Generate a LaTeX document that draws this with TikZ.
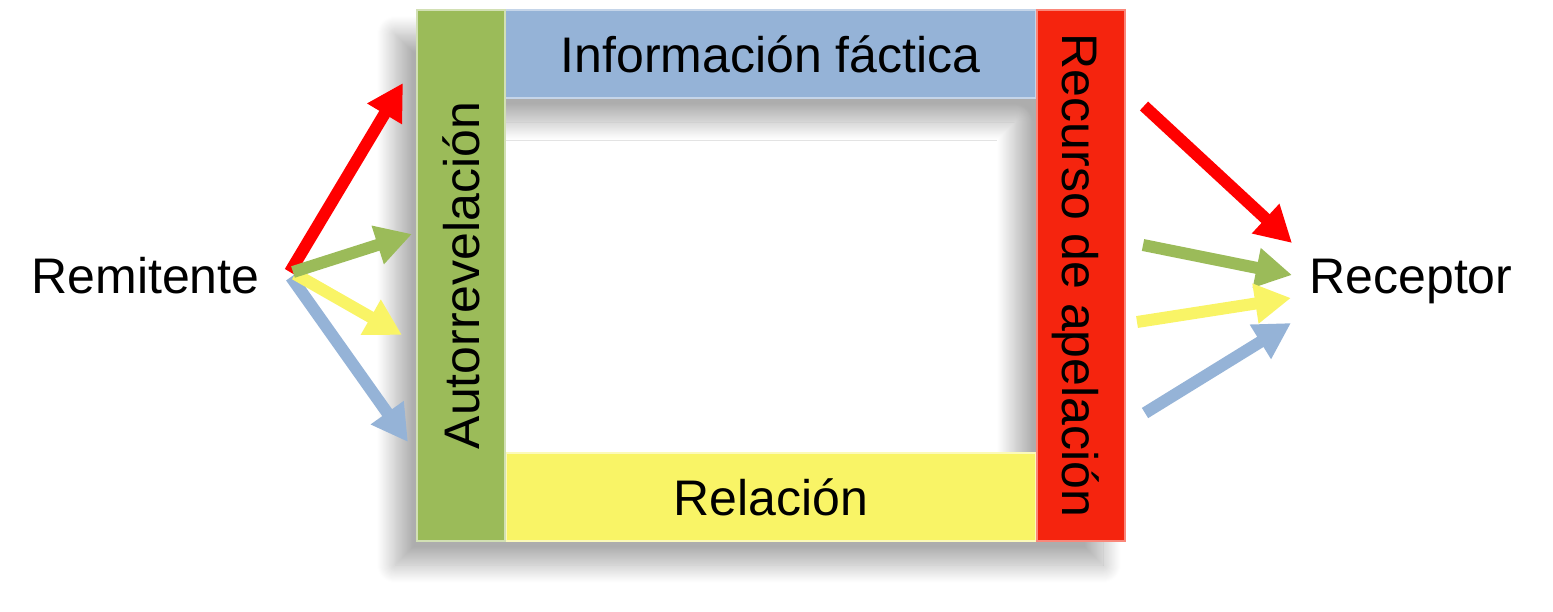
\documentclass[tikz,border=0pt]{standalone}
\usepackage{fontspec}
\setmainfont{Liberation Sans}
\usetikzlibrary{arrows.meta,shadows.blur,backgrounds}
\definecolor{barGreen}{RGB}{155,187,89}
\definecolor{barBlue}{RGB}{149,179,215}
\definecolor{barRed}{RGB}{245,36,14}
\definecolor{barYellow}{RGB}{249,244,102}
\definecolor{arrowRed}{RGB}{255,0,0}
\tikzstyle{person} = [inner sep=0pt, anchor=base, font=\fontsize{25pt}{30pt}\selectfont]
\tikzstyle{bar} = [rectangle, inner sep=0pt, text centered, line width=1.2pt,
minimum width=265.5pt, minimum height=44pt, font=\fontsize{25pt}{30pt}\selectfont]
\tikzstyle{barShadow} = [blur shadow={shadow xshift=-11pt, shadow yshift=-12pt, shadow blur steps=20, shadow blur radius=9pt, shadow opacity=32}]
\tikzstyle{msgArrow} = [line width=6pt, -{Triangle[length=18pt,width=19pt]}]

\begin{document}
\begin{tikzpicture}[x=0.5pt,y=-0.5pt]
		\useasboundingbox (0,0) rectangle (1553,611);
		%people
		\node[person](sender) at (145.5,293){Remitente};
		\node[person](receiver) at (1411,293){Receptor};
		
		%bars
		\node[bar, fill=barBlue, draw=barBlue!55!white](fact) at (770.5,54){Información fáctica};
		\node[bar, fill=barYellow, draw=barYellow!45!white](relation) at (771,497){Relación};
		\node[bar, fill=barGreen, draw=barGreen!45!white, rotate=90](self) at (461,275.5){Autorrevelación};
		\node[bar, fill=barRed, draw=barRed!55!white, rotate=-90, text depth=0pt](appeal) at (1081,275.5){Recurso de apelación};
		\coordinate(frameNW) at (417,10);
		\coordinate(frameSE) at (1125,541);
		\coordinate(innerNW) at (505,98);
		\coordinate(innerSE) at (1037,453);
		
		%shadow
		\begin{scope}[on background layer]
			\path[barShadow](frameNW) rectangle (frameSE);
			\fill[white](innerNW) rectangle (innerSE);
			\begin{scope}
				\clip(innerNW) rectangle (innerSE);
				\path[barShadow](frameNW) -- (frameNW -| frameSE) -- (frameSE) -- (innerSE |- frameSE)
					-- (innerSE |- innerNW) -- (frameNW |- innerNW) -- cycle;
			\end{scope}
		\end{scope}
		
		%arrow ends
		\coordinate(sRedTail) at (290,272);
		\coordinate(sGreenTail) at (293,272);
		\coordinate(sYellowTail) at (295,274);
		\coordinate(sBlueTail) at (291,277);
		\coordinate(sRed) at (403,83);
		\coordinate(sGreen) at (412,234);
		\coordinate(sYellow) at (402,335);
		\coordinate(sBlue) at (408,442);
		\coordinate(rRedTail) at (1144,106);
		\coordinate(rGreenTail) at (1143,245);
		\coordinate(rYellowTail) at (1137,322);
		\coordinate(rBlueTail) at (1145,413);
		\coordinate(rRed) at (1292,243);
		\coordinate(rGreen) at (1292,275);
		\coordinate(rYellow) at (1291,298);
		\coordinate(rBlue) at (1291,323);
		
		%arrows
		\draw[msgArrow, barBlue](sBlueTail)--(sBlue);
		\draw[msgArrow, barYellow](sYellowTail)--(sYellow);
		\draw[msgArrow, arrowRed](sRedTail)--(sRed);
		\draw[msgArrow, barGreen](sGreenTail)--(sGreen);
		\draw[msgArrow, arrowRed](rRedTail)--(rRed);
		\draw[msgArrow, barGreen](rGreenTail)--(rGreen);
		\draw[msgArrow, barYellow](rYellowTail)--(rYellow);
		\draw[msgArrow, barBlue](rBlueTail)--(rBlue);
	\end{tikzpicture}
\end{document}
